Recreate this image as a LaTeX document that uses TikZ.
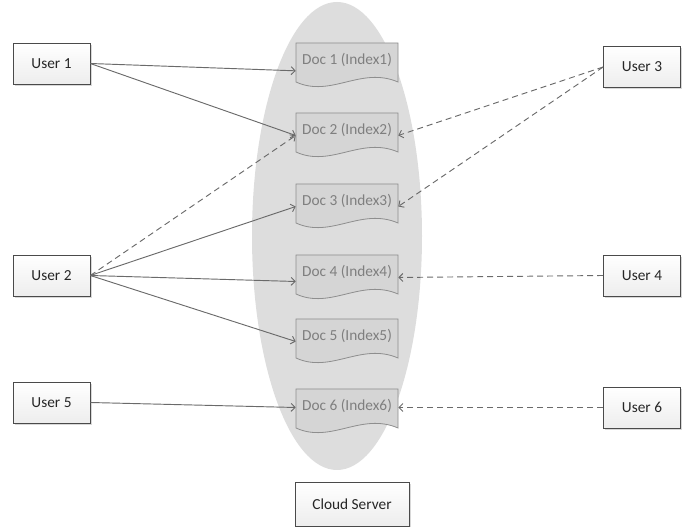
\documentclass[tikz,border=0pt]{standalone}
\usepackage{fontspec}
\setmainfont{Carlito}
\usetikzlibrary{arrows.meta,shadows}
\definecolor{ellfill}{HTML}{DDDDDD}
\definecolor{docfill}{HTML}{D5D5D5}
\definecolor{docedge}{HTML}{8E8E8E}
\definecolor{doctext}{HTML}{7F7F7F}
\definecolor{linec}{HTML}{6A6A6A}
\definecolor{boxedge}{HTML}{4A4A4A}
\tikzset{
  userbox/.style={draw=boxedge, line width=0.5pt, top color=white, bottom color=gray!14,
    minimum width=77*0.75pt, minimum height=41*0.75pt, inner sep=0pt,
    font=\fontsize{11.5}{13}\selectfont, text=black!85,
    drop shadow={shadow xshift=1.2pt, shadow yshift=-1.2pt, fill=gray!60, opacity=0.5}},
  docbox/.style={draw=none, minimum width=102*0.75pt, minimum height=45*0.75pt, inner sep=0pt,
    text height=8.5pt, text depth=10pt, font=\fontsize{11.5}{13}\selectfont, text=doctext},
  docline/.style={draw=docedge, line width=0.6pt, fill=docfill},
  conn/.style={draw=linec, line width=0.7pt, -{Straight Barb[length=3pt,width=6pt]}},
  dconn/.style={conn, dash pattern=on 4.5pt off 3pt}
}
\newcommand\docnode[4]{%
  \draw[docline, shift={({#2-51},{#3-22.5})}] (0,0) -- (102,0) -- (102,39)
     .. controls (65,23) and (35,55) .. (0,39) -- cycle;
  \node[docbox] (#1) at (#2,#3) {#4};}
\begin{document}
\begin{tikzpicture}[x=0.75pt,y=-0.75pt]
\useasboundingbox (0,0) rectangle (694,527);
\fill[ellfill] (337,236) ellipse [x radius=85, y radius=234];
\docnode{d1}{347}{65.5}{Doc 1 (Index1)}
\docnode{d2}{347}{135.5}{Doc 2 (Index2)}
\docnode{d3}{347}{206.5}{Doc 3 (Index3)}
\docnode{d4}{347}{277.5}{Doc 4 (Index4)}
\docnode{d5}{347}{341.5}{Doc 5 (Index5)}
\docnode{d6}{347}{411.5}{Doc 6 (Index6)}
\node[userbox] (u1) at (51.5,63.5) {User 1};
\node[userbox] (u2) at (51.5,275.5) {User 2};
\node[userbox] (u5) at (51.5,402.5) {User 5};
\node[userbox] (u3) at (642,67) {User 3};
\node[userbox] (u4) at (642,275.5) {User 4};
\node[userbox] (u6) at (642,407.5) {User 6};
\node[userbox, minimum width=114*0.75pt, minimum height=44*0.75pt] (cs) at (352,504) {Cloud Server};
\draw[conn] (u1.east) -- ([yshift=-4pt]d1.west);
\draw[conn] (u1.east) -- (d2.west);
\draw[dconn] (u2.east) -- (d2.west);
\draw[conn] (u2.east) -- (d3.west);
\draw[conn] (u2.east) -- ([yshift=-3pt]d4.west);
\draw[conn] (u2.east) -- (d5.west);
\draw[conn] (u5.east) -- ([yshift=3pt]d6.west);
\draw[dconn] (u3.west) -- (d2.east);
\draw[dconn] (u3.west) -- (d3.east);
\draw[dconn] (u4.west) -- (d4.east);
\draw[dconn] (u6.west) -- ([yshift=3pt]d6.east);
\end{tikzpicture}
\end{document}
